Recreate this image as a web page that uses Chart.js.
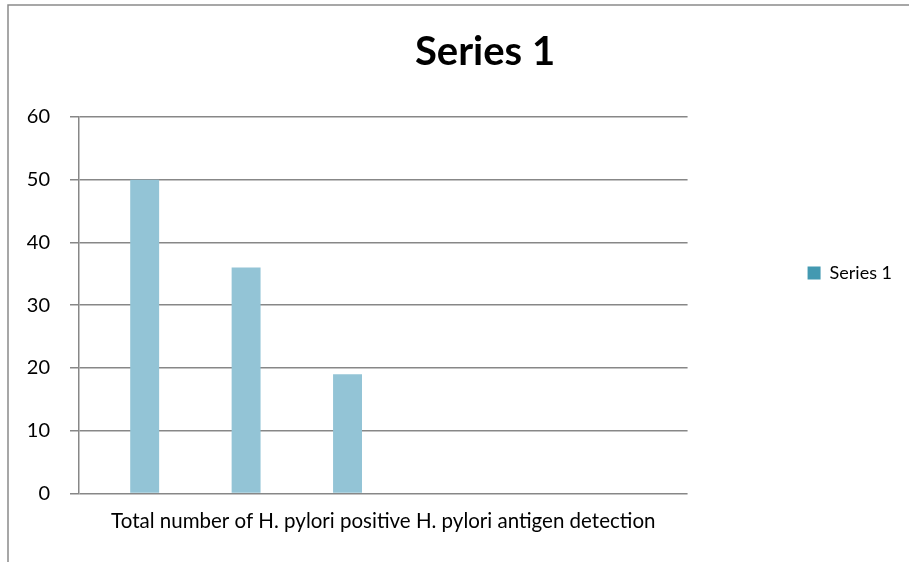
<!DOCTYPE html>
<html>
<head>
<meta charset="utf-8">
<script src="https://cdn.jsdelivr.net/npm/chart.js@4/dist/chart.umd.min.js"></script>
<style>
  html, body { margin: 0; padding: 0; background: #fff; overflow: hidden; }
  #wrap { position: absolute; left: 0; top: 0; width: 970px; height: 562px; }
</style>
</head>
<body>
<div id="wrap"><canvas id="grafica" width="970" height="562"></canvas></div>
<script>
// ========== DATOS ==========
const chartTitle = 'Series 1';
const seriesName = 'Series 1';
const xAxisLabel = 'Total number of H. pylori positive H. pylori antigen detection';
const categories = ['', '', '', '', '', ''];
const seriesValues = [50, 36, 19, null, null, null];
const yTicks = [0, 10, 20, 30, 40, 50, 60];

const barColor = '#93c4d6';
const legendColor = '#4399b1';
const gridColor = '#878787';
const fontFamily = 'Lato, "Open Sans", sans-serif';

// marco del grafico (borde superior e izquierdo)
const marco = {
  id: 'marco',
  afterDraw(chart) {
    const ctx = chart.ctx;
    ctx.save();
    ctx.strokeStyle = '#8a8a8a';
    ctx.lineWidth = 1.5;
    ctx.beginPath();
    ctx.moveTo(8, 562);
    ctx.lineTo(8, 5);
    ctx.lineTo(970, 5);
    ctx.stroke();
    ctx.restore();
  }
};

// el titulo se centra sobre todo el marco, no solo hasta la leyenda
const tituloCentrado = {
  id: 'tituloCentrado',
  afterLayout(chart) {
    chart.titleBlock.left = 0;
    chart.titleBlock.right = chart.width;
  }
};

const ctx = document.getElementById('grafica');

new Chart(ctx, {
  type: 'bar',
  data: {
    labels: categories,
    datasets: [
      // hueco para desplazar la barra dentro de cada categoria
      { label: '', data: [], backgroundColor: 'rgba(0,0,0,0)' },
      {
        label: seriesName,
        data: seriesValues,
        backgroundColor: barColor,
        borderWidth: 0
      }
    ]
  },
  options: {
    responsive: false,
    animation: false,
    devicePixelRatio: 1,
    datasets: { bar: { categoryPercentage: 0.59, barPercentage: 0.967 } },
    layout: { padding: { left: 0, right: 68, top: 0, bottom: 16 } },
    plugins: {
      title: {
        display: true,
        text: chartTitle,
        color: '#000',
        font: { family: fontFamily, size: 40, weight: 'bold' },
        padding: { top: 28, bottom: 41 }
      },
      legend: {
        position: 'right',
        align: 'center',
        labels: {
          boxWidth: 13,
          boxHeight: 13,
          padding: 120,
          color: '#000',
          font: { family: fontFamily, size: 18 },
          generateLabels: () => [{
            text: seriesName,
            fillStyle: legendColor,
            strokeStyle: legendColor,
            lineWidth: 0,
            hidden: false,
            datasetIndex: 1
          }]
        }
      },
      tooltip: { enabled: false }
    },
    scales: {
      x: {
        grid: { display: false, drawTicks: false },
        border: { display: false },
        ticks: { display: false },
        title: {
          display: true,
          text: xAxisLabel,
          color: '#000',
          font: { family: fontFamily, size: 20.5 },
          padding: { top: 16, bottom: 12 }
        }
      },
      y: {
        min: 0,
        max: 60,
        afterBuildTicks: scale => { scale.ticks = yTicks.map(v => ({ value: v })); },
        afterFit: scale => { scale.width = 79; },
        grid: { color: gridColor, lineWidth: 1.5, tickLength: 9, drawTicks: true },
        border: { display: true, color: gridColor, width: 1.5 },
        ticks: {
          color: '#000',
          padding: 20,
          font: { family: fontFamily, size: 20 }
        }
      }
    }
  },
  plugins: [marco, tituloCentrado]
});
</script>
</body>
</html>
